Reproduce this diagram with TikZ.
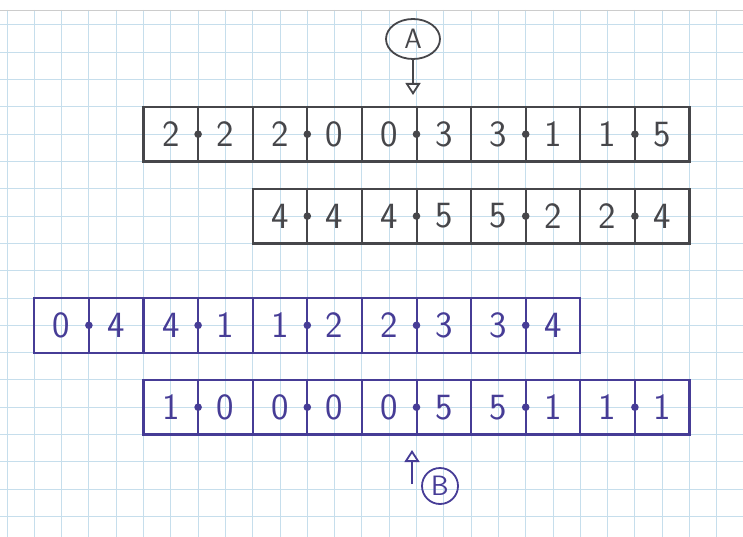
\documentclass[tikz,border=0pt]{standalone}
\usetikzlibrary{arrows.meta,shapes.geometric}
\definecolor{gridc}{RGB}{198,222,236}
\definecolor{pencilc}{RGB}{70,70,74}
\definecolor{inkc}{RGB}{70,60,150}
\tikzset{
  dom/.style={rectangle, draw, line width=2.2pt, minimum width=109.2pt, minimum height=54.6pt, inner sep=0pt},
  digit/.style={font=\sffamily\fontsize{37}{37}\selectfont, inner sep=0pt},
  pencil/.style={color=pencilc},
  ink/.style={color=inkc},
  tag/.style={font=\sffamily\fontsize{28}{28}\selectfont, inner sep=0pt, line width=1.8pt},
  pointer/.style={line width=1.8pt, -{Triangle[open, length=12pt, width=15pt]}}
}
\newcommand\dominorow[5]{%
  \foreach \l/\r [count=\j from 0] in {#5} {
    \pgfmathsetmacro\cx{7+27.3*(#2+4*\j)+54.6}
    \pgfmathsetmacro\cy{25+27.3*#3+27.3}
    \node[dom,#4] (#1\j) at (\cx,\cy) {};
    \draw[#4, line width=2pt] (#1\j.north) -- (#1\j.south);
    \fill[#4] (#1\j.center) circle[radius=3.8];
    \node[digit,#4] at ([xshift=-27.3pt]#1\j.center) {\l};
    \node[digit,#4] at ([xshift=27.3pt]#1\j.center) {\r};
  }}
\begin{document}
\begin{tikzpicture}[x=1pt,y=-1pt]
  \useasboundingbox (0,0) rectangle (743,537);
  \fill[white] (0,0) rectangle (743,537);
  % grid paper
  \foreach \k in {0,...,27} \draw[gridc, line width=1pt] ({7+27.3*\k},10) -- ({7+27.3*\k},537);
  \foreach \k in {0,...,18} \draw[gridc, line width=1pt] (0,{25+27.3*\k}) -- (743,{25+27.3*\k});
  \draw[gray!40, line width=0.6pt] (0,10) -- (743,10);
  % dominoes
  \dominorow{ra}{5}{3}{pencil}{2/2,2/0,0/3,3/1,1/5}
  \dominorow{rb}{9}{6}{pencil}{4/4,4/5,5/2,2/4}
  \dominorow{rc}{1}{10}{ink}{0/4,4/1,1/2,2/3,3/4}
  \dominorow{rd}{5}{13}{ink}{1/0,0/0,0/5,5/1,1/1}
  % marker A
  \node[tag, pencil, ellipse, draw, minimum width=54pt, minimum height=40pt] (A) at (413,39) {A};
  \coordinate (Atip) at (413,95);
  \draw[pointer, pencil] (A.south) -- (Atip);
  % marker B
  \node[tag, ink, circle, draw, minimum size=36pt] (B) at (440,486) {B};
  \coordinate (Bfoot) at (412,484);
  \coordinate (Btip) at (412,450);
  \draw[pointer, ink] (Bfoot) -- (Btip);
\end{tikzpicture}
\end{document}
